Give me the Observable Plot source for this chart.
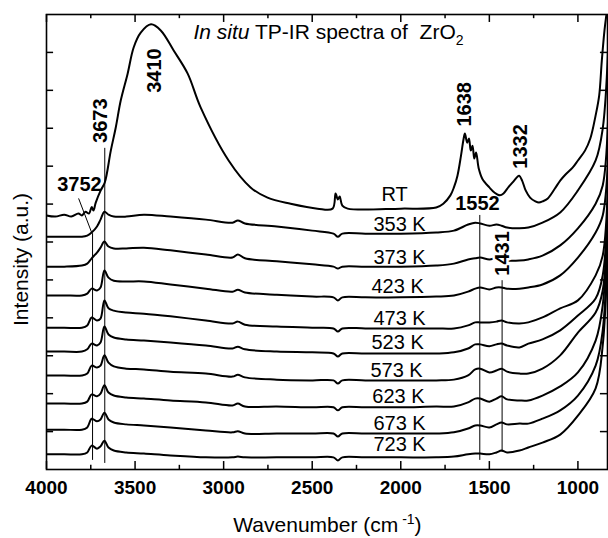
<!DOCTYPE html>
<html><head><meta charset="utf-8">
<script src="https://cdn.jsdelivr.net/npm/d3@7"></script>
<script src="https://cdn.jsdelivr.net/npm/@observablehq/plot@0.6"></script>
<style>
body{margin:0;background:#fff;}
#chart svg{display:block;}
</style></head><body><div id="chart"></div>
<script>
// ---- data (wavenumber in cm^-1, intensity in a.u., stacked offsets included) ----
const rtWavenumber = [4000,3950,3900,3860,3820,3800,3780,3760,3745,3735,3722,3694,3671,3637,3609,3581,3542,3508,3468,3410,3355,3282,3203,3130,2972,2848,2752,2622,2470,2385,2368,2355,2345,2330,2300,2000,1800,1760,1720,1700,1680,1660,1645,1638,1625,1615,1605,1595,1585,1575,1560,1540,1500,1470,1440,1420,1390,1360,1340,1332,1315,1295,1270,1240,1220,1200,1170,1130,1100,1070,1030,1000,960,930,900,880,865,850,840];
const rtIntensity = [6.70,6.67,6.72,6.67,6.75,6.70,6.80,6.75,6.92,6.83,7.04,7.36,7.57,8.41,9.02,9.73,10.44,11.13,11.52,11.74,11.58,11.05,10.44,9.55,8.15,7.44,7.17,7.01,6.88,6.88,7.28,7.12,7.20,6.96,6.88,6.88,6.91,7.01,7.23,7.44,7.75,8.28,8.73,8.86,8.62,8.73,8.41,8.54,8.20,8.36,7.94,7.67,7.44,7.30,7.23,7.28,7.46,7.62,7.73,7.75,7.62,7.36,7.17,7.07,7.04,7.07,7.15,7.41,7.62,7.78,7.96,8.15,8.41,8.73,9.34,9.86,10.79,11.58,11.97];

const wavenumber = [4000,3900,3800,3770,3745,3715,3695,3673,3650,3620,3550,3450,3300,3100,2950,2920,2880,2700,2500,2380,2355,2330,2200,2000,1800,1700,1620,1580,1552,1500,1460,1431,1400,1330,1280,1200,1100,1000,900,860,830];
const temperatures = ["353 K","373 K","423 K","473 K","523 K","573 K","623 K","673 K","723 K"];
const i353 = [6.14,6.14,6.14,6.17,6.25,6.41,6.59,6.80,6.72,6.67,6.67,6.72,6.67,6.59,6.51,6.57,6.49,6.41,6.30,6.22,6.14,6.22,6.22,6.22,6.25,6.30,6.46,6.51,6.49,6.43,6.46,6.43,6.38,6.36,6.38,6.51,6.78,7.36,8.15,8.99,11.05];
const i373 = [5.35,5.35,5.38,5.43,5.57,5.72,5.85,6.01,5.88,5.83,5.83,5.85,5.78,5.67,5.59,5.67,5.57,5.49,5.41,5.35,5.30,5.35,5.35,5.35,5.38,5.43,5.54,5.57,5.59,5.54,5.57,5.54,5.51,5.51,5.54,5.64,5.91,6.36,7.01,7.49,9.20];
const i423 = [4.59,4.59,4.59,4.64,4.77,4.72,4.80,5.25,5.06,4.98,4.96,4.96,4.88,4.77,4.69,4.74,4.67,4.61,4.56,4.54,4.46,4.54,4.54,4.54,4.56,4.59,4.69,4.77,4.80,4.75,4.80,4.80,4.77,4.77,4.80,4.88,5.12,5.59,6.25,6.70,8.15];
const i473 = [3.74,3.74,3.74,3.80,4.01,3.93,3.98,4.46,4.25,4.19,4.14,4.11,4.04,3.93,3.85,3.90,3.82,3.77,3.74,3.72,3.64,3.72,3.72,3.72,3.72,3.72,3.80,3.88,3.88,3.88,3.90,3.93,3.88,3.85,3.88,4.01,4.25,4.46,5.12,5.64,7.62];
const i523 = [3.11,3.11,3.11,3.17,3.32,3.27,3.35,3.77,3.56,3.48,3.43,3.40,3.35,3.27,3.19,3.24,3.17,3.11,3.09,3.06,2.98,3.06,3.06,3.06,3.06,3.09,3.19,3.30,3.30,3.25,3.30,3.32,3.27,3.22,3.32,3.43,3.67,4.06,4.51,5.12,7.23];
const i573 = [2.48,2.48,2.48,2.53,2.74,2.69,2.74,3.01,2.82,2.72,2.66,2.64,2.58,2.53,2.45,2.50,2.43,2.37,2.35,2.35,2.27,2.35,2.35,2.35,2.35,2.37,2.48,2.64,2.66,2.56,2.61,2.66,2.58,2.53,2.53,2.66,3.01,3.61,4.14,4.72,6.96];
const i623 = [1.74,1.74,1.74,1.79,1.98,1.93,2.00,2.22,2.03,1.95,1.90,1.87,1.82,1.77,1.69,1.74,1.66,1.66,1.64,1.64,1.56,1.64,1.64,1.64,1.66,1.66,1.77,1.87,1.87,1.79,1.87,1.93,1.85,1.82,1.82,1.95,2.19,2.56,3.40,4.33,6.70];
const i673 = [1.05,1.05,1.05,1.11,1.34,1.27,1.32,1.50,1.32,1.24,1.19,1.16,1.11,1.03,0.98,1.01,0.95,0.95,0.95,0.95,0.87,0.95,0.95,0.95,0.95,0.98,1.08,1.16,1.16,1.11,1.19,1.24,1.19,1.21,1.21,1.34,1.56,1.95,2.74,3.67,6.43];
const i723 = [0.40,0.40,0.40,0.45,0.63,0.55,0.61,0.76,0.58,0.50,0.45,0.42,0.37,0.32,0.32,0.34,0.32,0.32,0.32,0.32,0.24,0.32,0.32,0.32,0.32,0.34,0.40,0.42,0.42,0.40,0.45,0.50,0.45,0.50,0.58,0.71,0.92,1.42,2.14,3.27,6.17];
const tempSpectra = [i353,i373,i423,i473,i523,i573,i623,i673,i723];

// curve labels (anchor in wavenumber / intensity)
const curveLabels = ["RT", ...temperatures];
const curveLabelW = [2035,2007,2007,2018,2007,2018,2024,2013,2007,2007];
const curveLabelI = [7.25,6.46,5.59,4.83,3.98,3.35,2.61,1.93,1.21,0.66];

// band annotations
const bandText = ["3752","3410","3673","1638","1332","1552","1431"];
const bandW = [3814,3390,3695,1640,1324,1567,1426];
const bandI = [7.52,10.52,9.20,9.63,8.52,7.02,5.70];
const bandRotate = [0,-90,-90,-90,-90,0,-90];
const markerW = [3740,3671,1554,1428];
const markerTop = [6.22,8.47,6.70,4.98];
const markerBottom = [0.24,0.16,0.24,0.45];
const leaderW = [3818,3745];
const leaderI = [7.14,6.25];

const xMajor = [4000,3500,3000,2500,2000,1500,1000];
const xMinor = [3750,3250,2750,2250,1750,1250];
const yTicks = [1,2,3,4,5,6,7,8,9,10,11];

const TITLE = "In situ TP-IR spectra of\u00a0\u00a0ZrO2";
const XLABEL = "Wavenumber (cm-1)";
const YLABEL = "Intensity (a.u.)";

// ---- build tables ----
const rows = rtWavenumber.map((w,i)=>({series:"RT", w, v: rtIntensity[i]}));
temperatures.forEach((t,k)=>wavenumber.forEach((w,i)=>rows.push({series:t, w, v: tempSpectra[k][i]})));
const labelRows = curveLabels.map((t,i)=>({t, w: curveLabelW[i], v: curveLabelI[i]}));
const bandRows = bandText.map((t,i)=>({t, w: bandW[i], v: bandI[i], r: bandRotate[i]}));
const markerRows = markerW.map((w,i)=>({w, top: markerTop[i], bottom: markerBottom[i]}));
const leaderRows = leaderW.map((w,i)=>({w, v: leaderI[i]}));

const FONT = "'Liberation Sans', Arial, Helvetica, sans-serif";

const svg = Plot.plot({
  width: 608, height: 538,
  marginTop: 14, marginBottom: 69, marginLeft: 46, marginRight: 1,
  style: {fontFamily: FONT, background: "white", color: "black"},
  x: {domain: [4000, 833]},
  y: {domain: [0, 12], axis: null},
  marks: [
    Plot.line(rows, {x: "w", y: "v", z: "series", stroke: "black", strokeWidth: 2, strokeLinejoin: "round", curve: "catmull-rom", clip: true}),
    Plot.ruleX(markerRows, {x: "w", y1: "bottom", y2: "top", stroke: "black", strokeWidth: 1}),
    Plot.line(leaderRows, {x: "w", y: "v", stroke: "black", strokeWidth: 1}),
    Plot.ruleX(xMajor, {x: d => d, y1: 0, y2: 0.21, stroke: "black", strokeWidth: 1.5}),
    Plot.ruleX(xMinor, {x: d => d, y1: 0, y2: 0.11, stroke: "black", strokeWidth: 1.5}),
    Plot.ruleX(xMajor, {x: d => d, y1: 12, y2: 11.79, stroke: "black", strokeWidth: 1.5}),
    Plot.ruleX(xMinor, {x: d => d, y1: 12, y2: 11.89, stroke: "black", strokeWidth: 1.5}),
    Plot.ruleY(yTicks, {y: d => d, x1: 4000, x2: 3960, stroke: "black", strokeWidth: 1.5}),
    Plot.ruleY(yTicks, {y: d => d, x1: 833, x2: 873, stroke: "black", strokeWidth: 1.5}),
    Plot.frame({stroke: "black", strokeWidth: 1.6}),
    Plot.axisX(xMajor, {tickSize: 0, tickPadding: 11, fontSize: 19, fontWeight: "bold", label: null, tickFormat: d => String(d)}),
    Plot.text(labelRows, {x: "w", y: "v", text: "t", fontSize: 20, fill: "black", textAnchor: "middle"}),
    Plot.text(bandRows.filter(d => d.t !== "1431"), {x: "w", y: "v", text: "t", rotate: "r", fontSize: 20, fontWeight: "bold", fill: "black"}),
    Plot.text(bandRows.filter(d => d.t === "1431"), {x: "w", y: "v", text: "t", rotate: "r", fontSize: 20, fontWeight: "bold", fill: "black", stroke: "white", strokeWidth: 5}),
    Plot.text([TITLE], {x: 3170, y: 11.53, text: d => d, textAnchor: "start", fontSize: 21, fill: "black"}),
    Plot.text([XLABEL], {x: 2414, y: -1.48, text: d => d, fontSize: 21, fill: "black"}),
    Plot.text([YLABEL], {x: 4141, y: 5.54, text: d => d, rotate: -90, fontSize: 21, fill: "black"})
  ]
});

// rich text: italic "In situ", subscript in ZrO2, superscript in cm-1
d3.select(svg).selectAll("text").each(function() {
  const el = d3.select(this);
  const s = this.textContent;
  if (s === TITLE) {
    el.text(null);
    el.append("tspan").attr("font-style", "italic").text("In situ");
    el.append("tspan").text(" TP-IR spectra of\u00a0\u00a0ZrO");
    el.append("tspan").attr("font-size", 14).attr("dy", 6).text("2");
  } else if (s === XLABEL) {
    el.text(null);
    el.append("tspan").text("Wavenumber (cm");
    el.append("tspan").attr("font-size", 14).attr("dy", -8).text("\u00a0-1");
    el.append("tspan").attr("dy", 8).text(")");
  }
});

document.getElementById("chart").appendChild(svg);
</script></body></html>
